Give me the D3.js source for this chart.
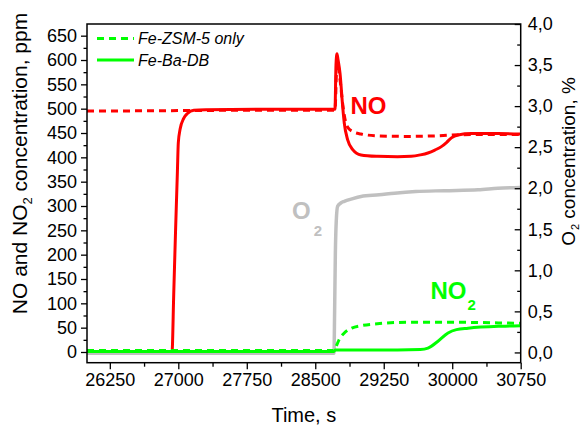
<!DOCTYPE html>
<html>
<head>
<meta charset="utf-8">
<script src="https://cdn.jsdelivr.net/npm/d3@7"></script>
<style>
  html, body { margin: 0; padding: 0; background: #fff; }
  svg { display: block; font-family: "Liberation Sans", Arial, sans-serif; }
</style>
</head>
<body>
<svg id="chart" width="584" height="427"></svg>
<script>
// ---------- data ----------
const timeTicks = [26250, 27000, 27750, 28500, 29250, 30000, 30750];
const timeMinor = [26625, 27375, 28125, 28875, 29625, 30375];
const leftTicks = [0, 50, 100, 150, 200, 250, 300, 350, 400, 450, 500, 550, 600, 650];
const leftMinor = [25, 75, 125, 175, 225, 275, 325, 375, 425, 475, 525, 575, 625];
const rightTicks = [0, 0.5, 1.0, 1.5, 2.0, 2.5, 3.0, 3.5, 4.0];
const rightMinor = [0.25, 0.75, 1.25, 1.75, 2.25, 2.75, 3.25, 3.75];

const legendLabels = ["Fe-ZSM-5 only", "Fe-Ba-DB"];

// NO, Fe-ZSM-5 only (dashed red), ppm
const noZsmTime = [26000, 27000, 28000, 28700, 28716, 28738, 28771, 28800, 28830, 28855, 28910, 29000, 29200, 29500, 29800, 30000, 30300, 30750];
const noZsm     = [495,   496,   497,   497,   497,   595,   560,   510,   475,   462,   453,   448,   444,   443,   444,   446,   447,   447];

// NO, Fe-Ba-DB (solid red), ppm
const noBaTime = [26000, 26931, 26950, 26970, 26990, 27000, 27020, 27059, 27100, 27170, 27300, 28000, 28700, 28716, 28727, 28738, 28750, 28771, 28800, 28818, 28855, 28910, 29001, 29185, 29400, 29551, 29650, 29734, 29810, 29881, 29940, 29991, 30064, 30210, 30500, 30750];
const noBa     = [0,     0,     120,   250,   370,   430,   458,   480,   490,   497,   498,   499,   499,   499,   590,   613,   600,   573,   505,   470,   436,   416,   405,   402,   401,   402,   405,   409,   415,   422,   431,   440,   446,   449,   449,   448];

// O2, % (grey, right axis)
const o2Time = [26000, 28705, 28712, 28720, 28730, 28745, 28780, 28818, 28900, 29001, 29200, 29367, 29600, 29917, 30284, 30500, 30750];
const o2     = [-0.01, -0.01, 0.5,   1.2,   1.6,   1.78,  1.82,  1.84,  1.87,  1.90,  1.92,  1.94,  1.96,  1.97,  1.98,  2.0,   2.01];

// NO2, Fe-ZSM-5 only (dashed green), ppm
const no2ZsmTime = [26000, 28700, 28727, 28760, 28818, 28900, 29000, 29180, 29500, 29800, 30100, 30450, 30750];
const no2Zsm     = [3,     3,     11,    25,    39,    49,    54,    58,    61,    61,    61,    60,    59];

// NO2, Fe-Ba-DB (solid green), ppm
const no2BaTime = [26000, 28700, 28720, 29000, 29400, 29650, 29734, 29844, 29954, 30046, 30174, 30540, 30750];
const no2Ba     = [1,     1,     4,     4,     4,     5,     8,     22,    39,    46,    49,    53,    54];

// ---------- layout ----------
const M = { left: 87, right: 520.7, top: 24, bottom: 362.7 };
const RED = "#ff0000", GREEN = "#00ff00", GREY = "#c0c0c0";
const DASH = "7,5";

const svg = d3.select("#chart");

const x = d3.scaleLinear().domain([26000, 30750]).range([M.left, M.right]);
const yL = d3.scaleLinear().domain([-22, 674]).range([M.bottom, M.top]);
const yR = d3.scaleLinear().domain([-0.125, 4.0]).range([M.bottom, M.top]);

const zip = (t, v) => t.map((d, i) => [d, v[i]]);
const lineL = d3.line().x(d => x(d[0])).y(d => yL(d[1])).curve(d3.curveMonotoneX);
const lineR = d3.line().x(d => x(d[0])).y(d => yR(d[1])).curve(d3.curveMonotoneX);

svg.append("clipPath").attr("id", "clip").append("rect")
  .attr("x", M.left).attr("y", M.top).attr("width", M.right - M.left).attr("height", M.bottom - M.top);
const lines = svg.append("g").attr("clip-path", "url(#clip)");

function addLine(gen, data, color, dashed, w) {
  lines.append("path")
    .attr("d", gen(data))
    .attr("fill", "none")
    .attr("stroke", color)
    .attr("stroke-width", w || 3)
    .attr("stroke-linejoin", "round")
    .attr("stroke-dasharray", dashed ? DASH : null);
}

addLine(lineL, zip(noZsmTime, noZsm), RED, true);
addLine(lineL, zip(noBaTime, noBa), RED, false);
addLine(lineR, zip(o2Time, o2), GREY, false, 3.5);
addLine(lineL, zip(no2ZsmTime, no2Zsm), GREEN, true);
addLine(lineL, zip(no2BaTime, no2Ba), GREEN, false);

// ---------- axes ----------
const tickFont = 18;
const commaFmt = d => d3.format(".1f")(d).replace(".", ",");

function styleAxis(g) {
  g.select(".domain").remove();
  g.selectAll(".tick line").attr("stroke", "#000").attr("stroke-width", 1.3);
  g.selectAll("text").attr("font-size", tickFont).attr("fill", "#000")
    .attr("font-family", "'Liberation Sans', Arial, sans-serif");
}

// bottom
svg.append("g").attr("transform", `translate(0,${M.bottom})`)
  .call(d3.axisBottom(x).tickValues(timeTicks).tickFormat(d3.format("d")).tickSize(6.5).tickPadding(4))
  .call(styleAxis);
svg.append("g").attr("transform", `translate(0,${M.bottom})`)
  .call(d3.axisBottom(x).tickValues(timeMinor).tickFormat("").tickSize(4))
  .call(styleAxis);

// left
svg.append("g").attr("transform", `translate(${M.left},0)`)
  .call(d3.axisLeft(yL).tickValues(leftTicks).tickFormat(d3.format("d")).tickSize(6).tickPadding(4))
  .call(styleAxis);
svg.append("g").attr("transform", `translate(${M.left},0)`)
  .call(d3.axisLeft(yL).tickValues(leftMinor).tickFormat("").tickSize(3.5))
  .call(styleAxis);

// right (ticks inward)
svg.append("g").attr("transform", `translate(${M.right},0)`)
  .call(d3.axisRight(yR).tickValues(rightTicks).tickFormat(commaFmt).tickSizeInner(-6).tickSizeOuter(0).tickPadding(7))
  .call(styleAxis);
svg.append("g").attr("transform", `translate(${M.right},0)`)
  .call(d3.axisRight(yR).tickValues(rightMinor).tickFormat("").tickSizeInner(-3.5).tickSizeOuter(0))
  .call(styleAxis);

// frame
svg.append("rect")
  .attr("x", M.left).attr("y", M.top).attr("width", M.right - M.left).attr("height", M.bottom - M.top)
  .attr("fill", "none").attr("stroke", "#000").attr("stroke-width", 1.5);

// ---------- axis titles ----------
svg.append("text")
  .attr("x", (M.left + M.right) / 2).attr("y", 422)
  .attr("text-anchor", "middle").attr("font-size", 20)
  .text("Time, s");

const lt = svg.append("text")
  .attr("transform", "translate(26.5,163.5) rotate(-90)")
  .attr("text-anchor", "middle").attr("font-size", 21);
lt.append("tspan").text("NO and NO");
lt.append("tspan").attr("font-size", 13).attr("dy", 5).text("2");
lt.append("tspan").attr("dy", -5).text(" concentration, ppm");

const rt = svg.append("text")
  .attr("transform", "translate(575,161.5) rotate(-90)")
  .attr("text-anchor", "middle").attr("font-size", 19);
rt.append("tspan").text("O");
rt.append("tspan").attr("font-size", 11).attr("dy", 4).attr("dx", 1).text("2");
rt.append("tspan").attr("dy", -4).text(" concentration, %");

// ---------- annotations ----------
svg.append("text").attr("x", 350.5).attr("y", 114)
  .attr("font-size", 24).attr("font-weight", "bold").attr("fill", RED).text("NO");

const o2t = svg.append("text").attr("x", 292).attr("y", 219)
  .attr("font-size", 24).attr("font-weight", "bold").attr("fill", GREY);
o2t.append("tspan").text("O");
o2t.append("tspan").attr("font-size", 15).attr("dy", 17).attr("dx", 3).text("2");

const no2t = svg.append("text").attr("x", 430.5).attr("y", 299)
  .attr("font-size", 24).attr("font-weight", "bold").attr("fill", GREEN);
no2t.append("tspan").text("NO");
no2t.append("tspan").attr("font-size", 15).attr("dy", 11).attr("dx", 1).text("2");

// ---------- legend ----------
const leg = svg.append("g");
[[true, 38.5], [false, 60]].forEach(([dashed, yy], i) => {
  leg.append("line")
    .attr("x1", 97).attr("x2", 134).attr("y1", yy).attr("y2", yy)
    .attr("stroke", GREEN).attr("stroke-width", 3)
    .attr("stroke-dasharray", dashed ? DASH : null);
  leg.append("text")
    .attr("x", 138).attr("y", yy + 5.5)
    .attr("font-size", 16).attr("font-style", "italic")
    .text(legendLabels[i]);
});
</script>
</body>
</html>
